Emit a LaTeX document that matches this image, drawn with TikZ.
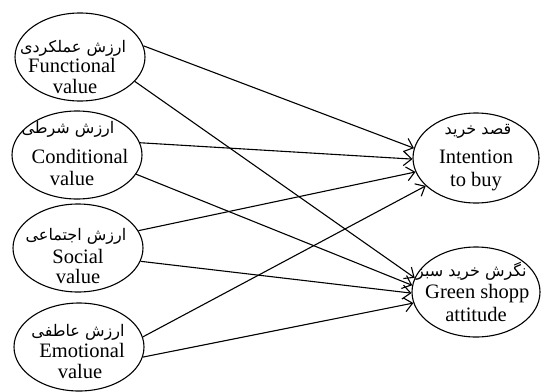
\documentclass[tikz,border=0pt]{standalone}
\usepackage{fontspec}
\setmainfont{Liberation Serif}
\newfontfamily\fa[Script=Arabic]{DejaVu Sans}
\TeXXeTstate=1
\usetikzlibrary{shapes.geometric,arrows.meta}
\begin{document}
\begin{tikzpicture}[x=1pt,y=-1pt,
 ell/.style={draw, ellipse, line width=1.1pt, inner sep=0pt},
 lw/.style={ell, minimum width=130pt, minimum height=88pt},
 en/.style={font=\fontsize{20.5}{23}\selectfont, inner sep=0pt, anchor=base},
 fatx/.style={font=\fontsize{16}{18}\fa, inner sep=0pt, anchor=base},
 arr/.style={line width=1.1pt, -{Straight Barb[length=8pt,width=14pt]}}]
\useasboundingbox (0,0) rectangle (543,391);
\fill[white] (0,0) rectangle (543,391);
% left ellipses
\node[lw] (f) at (80,57) {};
\node[lw] (c) at (77,155) {};
\node[lw] (s) at (78,248) {};
\node[lw] (e) at (79,347) {};
% right ellipses
\node[ell, minimum width=126pt, minimum height=90pt] (i) at (476,158) {};
\node[ell, minimum width=128pt, minimum height=90pt] (g) at (476,292) {};
% texts
\node[fatx] (fp) at (73,52) {\beginR ارزش عملکردی\endR};
\node[en] (f1) at (72,72) {Functional};
\node[en] (f2) at (75,93) {value};
\node[fatx] (cp) at (68,133) {\beginR ارزش شرطی\endR};
\node[en] (c1) at (80,163) {Conditional};
\node[en] (c2) at (72,185) {value};
\node[fatx] (sp) at (76,240) {\beginR ارزش اجتماعی\endR};
\node[en] (s1) at (78,263) {Social};
\node[en] (s2) at (78,283) {value};
\node[fatx] (ep) at (78,336) {\beginR ارزش عاطفی\endR};
\node[en] (e1) at (82,357) {Emotional};
\node[en] (e2) at (80,378) {value};
\node[fatx] (ip) at (478,134) {\beginR قصد خرید\endR};
\node[en] (i1) at (476,163) {Intention};
\node[en] (i2) at (476,186) {to buy};
\node[fatx, anchor=base west] (gp) at (416,276) {\beginR نگرش خرید سبز\endR};
\node[en, anchor=base west] (g1) at (425,298) {Green shopp};
\node[en] (g2) at (476,321) {attitude};
% arrows
\draw[arr] (f.10) -- (i.171);
\draw[arr] (f.-24) -- (g.167);
\draw[arr] (c.11) -- (i.181);
\draw[arr] (c.-18) -- (g.174);
\draw[arr] (s.16) -- (i.193);
\draw[arr] (s.-12) -- (g.181);
\draw[arr] (e.9) -- (i.209);
\draw[arr] (e.-9) -- (g.190);
\end{tikzpicture}
\end{document}
